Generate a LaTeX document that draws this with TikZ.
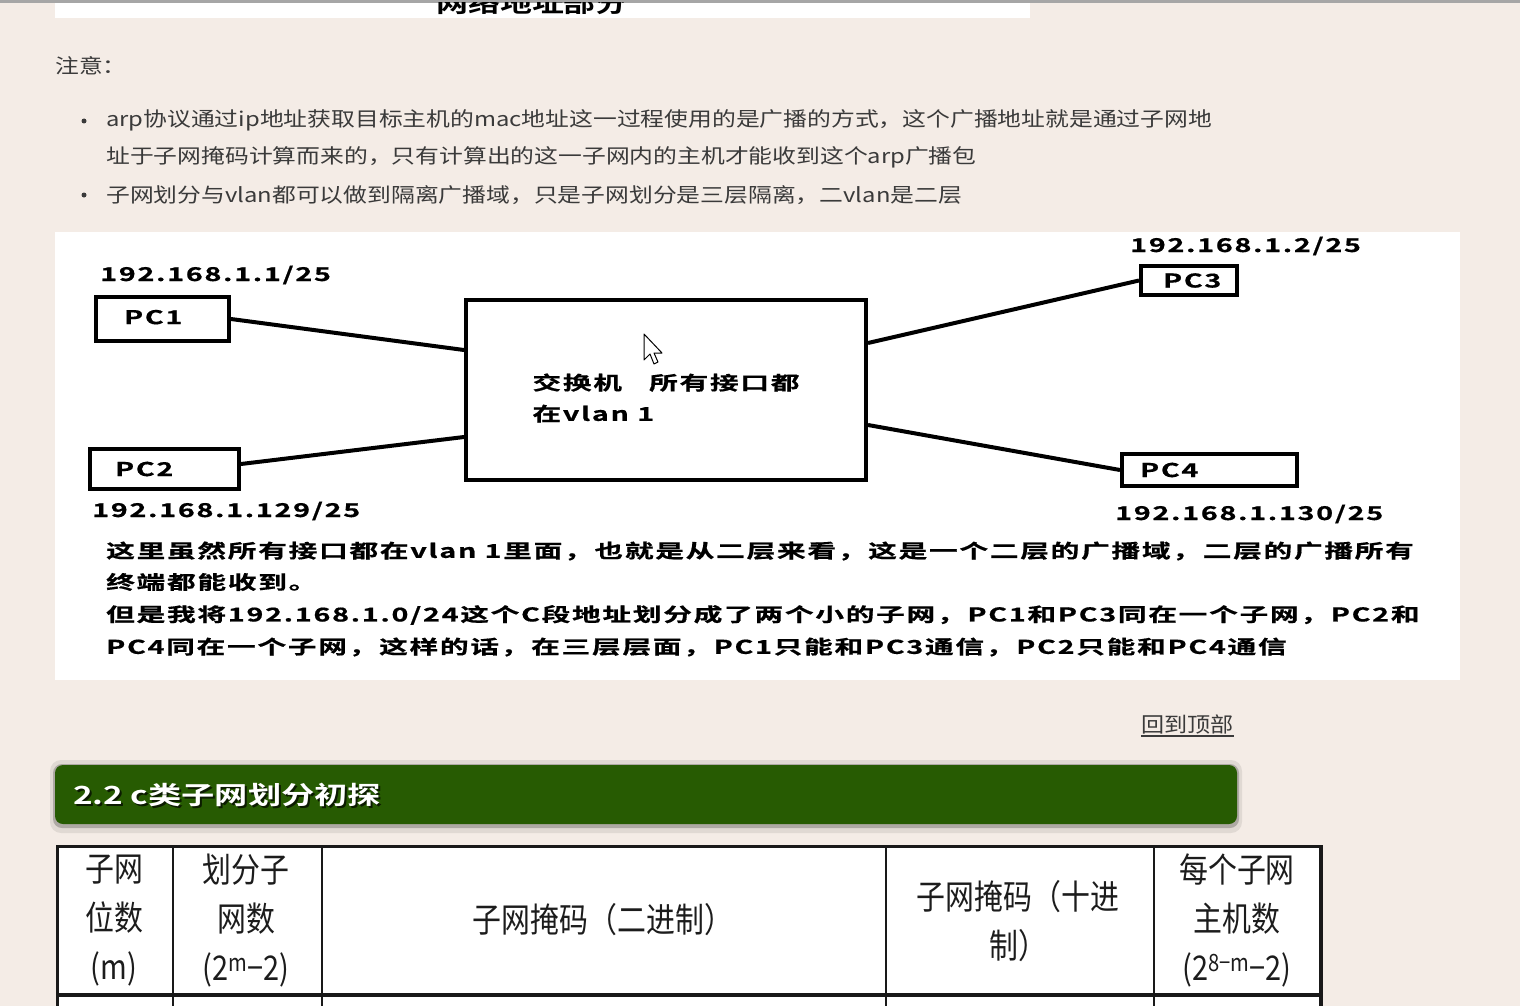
\documentclass[tikz,border=0pt]{standalone}
\usepackage{fontspec}
\usepackage{graphicx}
\usetikzlibrary{positioning, calc}
\newfontfamily\cjk{Noto Sans CJK SC}
\newfontfamily\cjkbold{Noto Sans CJK SC Bold}
\newfontfamily\diagfont[LetterSpace=6, FakeBold=0.6]{Noto Sans CJK SC Bold}
\definecolor{pagebg}{HTML}{F4ECE6}
\definecolor{bodytext}{HTML}{3A3A3A}
\definecolor{headgreen}{HTML}{275B02}
\definecolor{topbar}{HTML}{A6A6A6}
\definecolor{celltext}{HTML}{1C1C1C}
\newcommand{\diagw}[1]{\scalebox{1.51}[1]{#1}}
\newcommand{\bodyw}[1]{\scalebox{1.19}[1]{#1}}
\newcommand{\headw}[1]{\scalebox{1.33}[1]{#1}}
\newcommand{\cellw}[1]{\scalebox{0.85}[1]{#1}}

\begin{document}
\begin{tikzpicture}[
    x=1pt, y=-1pt,
    pcbox/.style={rectangle, draw=black, line width=4pt, fill=white,
                  inner ysep=0pt, align=left,
                  font=\diagfont\fontsize{19}{22}\selectfont},
    link/.style={line width=4pt, color=black},
    iplabel/.style={anchor=base west, inner sep=0pt,
                    font=\diagfont\fontsize{19}{22}\selectfont},
    diagtext/.style={anchor=west, inner sep=0pt,
                     font=\diagfont\fontsize{19}{22}\selectfont},
    bodyline/.style={anchor=west, inner sep=0pt, text=bodytext,
                     font=\cjk\fontsize{20}{22}\selectfont},
    headtext/.style={anchor=west, inner sep=0pt, text=white,
                     font=\cjkbold\fontsize{25}{28}\selectfont},
    cell/.style={align=center, inner sep=0pt, text=celltext,
                 font=\cjk\fontsize{34}{49}\selectfont},
    tablerule/.style={line width=#1, draw=black!90}
]

% page
\fill[pagebg] (0,0) rectangle (1520,1006);
\useasboundingbox (0,0) rectangle (1520,1006);
\fill[topbar] (0,0) rectangle (1520,3);
\fill[white] (55,3) rectangle (1030,18);
\begin{scope}
  \clip (55,3) rectangle (1030,18);
  \node[anchor=center, inner sep=0pt, font=\cjkbold\fontsize{24}{26}\selectfont] (oldhead) at (532,3) {\headw{网络地址部分}};
\end{scope}

% notes
\node[bodyline] (notice) at (55,66) {\bodyw{注意：}};
\fill[bodytext] (84,121) circle (2.5);
\fill[bodytext] (84,195) circle (2.5);
\node[bodyline] (note1) at (106,120) {\bodyw{arp协议通过ip地址获取目标主机的mac地址这一过程使用的是广播的方式，这个广播地址就是通过子网地}};
\node[bodyline] (note2) at (106,157) {\bodyw{址于子网掩码计算而来的，只有计算出的这一子网内的主机才能收到这个arp广播包}};
\node[bodyline] (note3) at (106,195) {\bodyw{子网划分与vlan都可以做到隔离广播域，只是子网划分是三层隔离，二vlan是二层}};

% diagram
\fill[white] (55,232) rectangle (1460,680);

\node[pcbox, minimum width=400pt, minimum height=180pt] (sw) at (666,390) {};
\node[diagtext, anchor=center, align=left, font=\diagfont\fontsize{19}{31}\selectfont, yshift=-8pt] (swlabel) at (sw.center) {\diagw{交换机\hspace{18pt}所有接口都}\\\diagw{在vlan 1}};

\node[pcbox, minimum width=133pt, minimum height=44pt, inner xsep=28pt, text width=77pt] (pc1) at (162.5,319) {\raisebox{4pt}{\diagw{PC1}}};
\node[pcbox, minimum width=149pt, minimum height=40pt, inner xsep=25pt, text width=99pt] (pc2) at (164.5,469) {\raisebox{-3pt}{\diagw{PC2}}};
\node[pcbox, minimum width=92pt, minimum height=29pt, inner xsep=22pt, text width=52pt] (pc3) at (1189,280.5) {\diagw{PC3}};
\node[pcbox, minimum width=175pt, minimum height=32pt, inner xsep=18pt, text width=139pt] (pc4) at (1209.5,470) {\diagw{PC4}};

\node[iplabel] (ip1) at ([xshift=6pt, yshift=14pt]pc1.north west) {\diagw{192.168.1.1/25}};
\node[iplabel] (ip2) at ([xshift=4pt, yshift=-26pt]pc2.south west) {\diagw{192.168.1.129/25}};
\node[iplabel] (ip3) at ([xshift=-9pt, yshift=12pt]pc3.north west) {\diagw{192.168.1.2/25}};
\node[iplabel] (ip4) at ([xshift=-5pt, yshift=-32pt]pc4.south west) {\diagw{192.168.1.130/25}};

\draw[link] (pc1.east) -- ([yshift=40pt]sw.west);
\draw[link] ([yshift=5pt]pc2.east) -- ([yshift=-47pt]sw.west);
\draw[link] (pc3.west) -- ([yshift=47pt]sw.east);
\draw[link] (pc4.west) -- ([yshift=-35pt]sw.east);

% mouse pointer
\draw[fill=white, line width=1pt, line join=round] (644,334) -- ++(0,26) -- ++(6,-6) -- ++(4,10) -- ++(4,-2) -- ++(-4,-9) -- ++(8,0) -- cycle;

\node[diagtext] (par1) at (106,551) {\diagw{这里虽然所有接口都在vlan 1里面，也就是从二层来看，这是一个二层的广播域，二层的广播所有}};
\node[diagtext] (par2) at (106,582) {\diagw{终端都能收到。}};
\node[diagtext] (par3) at (106,615) {\diagw{但是我将192.168.1.0/24这个C段地址划分成了两个小的子网，PC1和PC3同在一个子网，PC2和}};
\node[diagtext] (par4) at (106,647) {\diagw{PC4同在一个子网，这样的话，在三层层面，PC1只能和PC3通信，PC2只能和PC4通信}};

% back to top
\node[anchor=west, inner sep=0pt, text=bodytext, font=\cjk\fontsize{21}{22}\selectfont] (totop) at (1141,724) {\scalebox{1.1}[1]{回到顶部}};
\draw[line width=1.3pt, bodytext] ([yshift=-2pt]totop.south west) -- ([yshift=-2pt]totop.south east);

% section bar
\fill[black, opacity=0.08, rounded corners=11pt] (50,760) rectangle (1242,833);
\fill[black, opacity=0.22, rounded corners=9pt] (53,764) rectangle (1239,828);
\fill[headgreen, rounded corners=8pt] (55,765) rectangle (1237,824);
\node[headtext, text=black, opacity=0.7] (headshade) at (75,797) {\headw{2.2 c类子网划分初探}};
\node[headtext] (head) at (73,795) {\headw{2.2 c类子网划分初探}};

% table
\fill[white] (56,845) rectangle (1323,1006);
\draw[tablerule=3pt] (56,846.5) -- (1323,846.5);
\draw[tablerule=4pt] (56,995) -- (1323,995);
\draw[tablerule=3pt] (57.5,845) -- (57.5,1006);
\draw[tablerule=2.5pt] (173,845) -- (173,1006);
\draw[tablerule=2.5pt] (322,845) -- (322,1006);
\draw[tablerule=2.5pt] (886,845) -- (886,1006);
\draw[tablerule=2.5pt] (1154,845) -- (1154,1006);
\draw[tablerule=4pt] (1321,845) -- (1321,1006);

\node[cell] (th1) at (114,921) {\cellw{子网}\\\cellw{位数}\\\cellw{(m)}};
\node[cell] (th2) at (246,921) {\cellw{划分子}\\\cellw{网数}\\\cellw{(2\textsuperscript{m}−2)}};
\node[cell] (th3) at (603,920) {\cellw{子网掩码（二进制）}};
\node[cell] (th4) at (1018,921) {\cellw{子网掩码（十进}\\\cellw{制）}};
\node[cell] (th5) at (1237,920) {\cellw{每个子网}\\\cellw{主机数}\\\cellw{(2\textsuperscript{8−m}−2)}};

\end{tikzpicture}
\end{document}
